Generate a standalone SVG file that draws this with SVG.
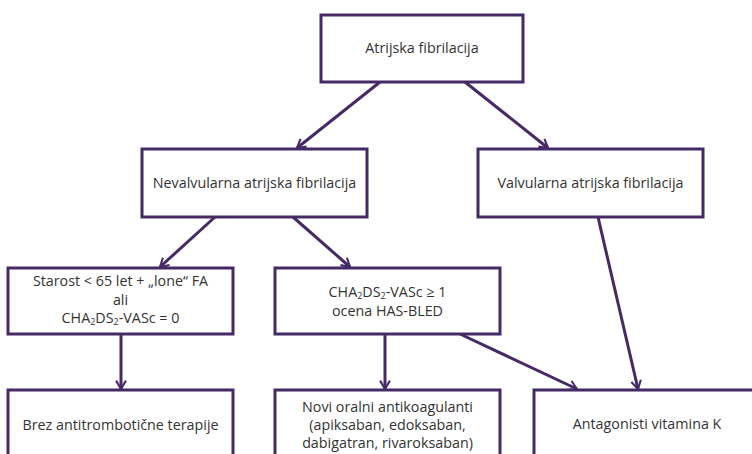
<svg xmlns="http://www.w3.org/2000/svg" width="752" height="454" viewBox="0 0 752 454">
<defs>
<style>
.box{fill:#fff;stroke:#452a66;stroke-width:3}
.c{fill:none;stroke:#452a66;stroke-width:3}
text{font-family:"Open Sans","Noto Sans","Liberation Sans",sans-serif;font-size:14.3px;fill:#333;text-anchor:middle}
.sub{font-size:9px}
</style>
<marker id="ah" viewBox="0 0 20 20" refX="18" refY="10" markerWidth="14" markerHeight="14" markerUnits="userSpaceOnUse" orient="auto">
<path d="M6,3 L18,10 L6,17" fill="none" stroke="#452a66" stroke-width="3"/>
</marker>
</defs>
<rect width="752" height="454" fill="#fff"/>
<g id="connectors">
<line class="c" x1="380" y1="82" x2="297" y2="148" marker-end="url(#ah)"/>
<line class="c" x1="465" y1="82" x2="548" y2="148" marker-end="url(#ah)"/>
<line class="c" x1="215" y1="217" x2="160" y2="267" marker-end="url(#ah)"/>
<line class="c" x1="293" y1="217" x2="350" y2="267" marker-end="url(#ah)"/>
<line class="c" x1="121" y1="334" x2="121" y2="389" marker-end="url(#ah)"/>
<line class="c" x1="385" y1="334" x2="385" y2="389" marker-end="url(#ah)"/>
<line class="c" x1="460" y1="334" x2="577" y2="389" marker-end="url(#ah)"/>
<line class="c" x1="598" y1="217" x2="638" y2="389" marker-end="url(#ah)"/>
</g>
<g id="n-af">
<rect class="box" x="321" y="15" width="202" height="67"/>
<text x="422" y="53">Atrijska fibrilacija</text>
</g>
<g id="n-nevalv">
<rect class="box" x="142" y="149" width="225" height="68"/>
<text x="254.5" y="188">Nevalvularna atrijska fibrilacija</text>
</g>
<g id="n-valv">
<rect class="box" x="478" y="149" width="225" height="68"/>
<text x="590.5" y="188">Valvularna atrijska fibrilacija</text>
</g>
<g id="n-starost">
<rect class="box" x="8" y="268" width="225" height="66"/>
<text x="120.5" y="286">Starost &lt; 65 let + „lone“ FA</text>
<text x="120.5" y="305">ali</text>
<text x="120.5" y="323">CHA<tspan class="sub" dy="2">2</tspan><tspan dy="-2">DS</tspan><tspan class="sub" dy="2">2</tspan><tspan dy="-2">-VASc = 0</tspan></text>
</g>
<g id="n-cha">
<rect class="box" x="275" y="268" width="225" height="66"/>
<text x="387.5" y="297">CHA<tspan class="sub" dy="2">2</tspan><tspan dy="-2">DS</tspan><tspan class="sub" dy="2">2</tspan><tspan dy="-2">-VASc ≥ 1</tspan></text>
<text x="387.5" y="316">ocena HAS-BLED</text>
</g>
<g id="n-brez">
<rect class="box" x="8" y="390" width="225" height="80"/>
<text x="120.5" y="430">Brez antitrombotične terapije</text>
</g>
<g id="n-novi">
<rect class="box" x="275" y="390" width="225" height="80"/>
<text x="387.5" y="412">Novi oralni antikoagulanti</text>
<text x="387.5" y="430">(apiksaban, edoksaban,</text>
<text x="387.5" y="448">dabigatran, rivaroksaban)</text>
</g>
<g id="n-avk">
<rect class="box" x="534" y="390" width="226" height="80"/>
<text x="647" y="429">Antagonisti vitamina K</text>
</g>
</svg>
